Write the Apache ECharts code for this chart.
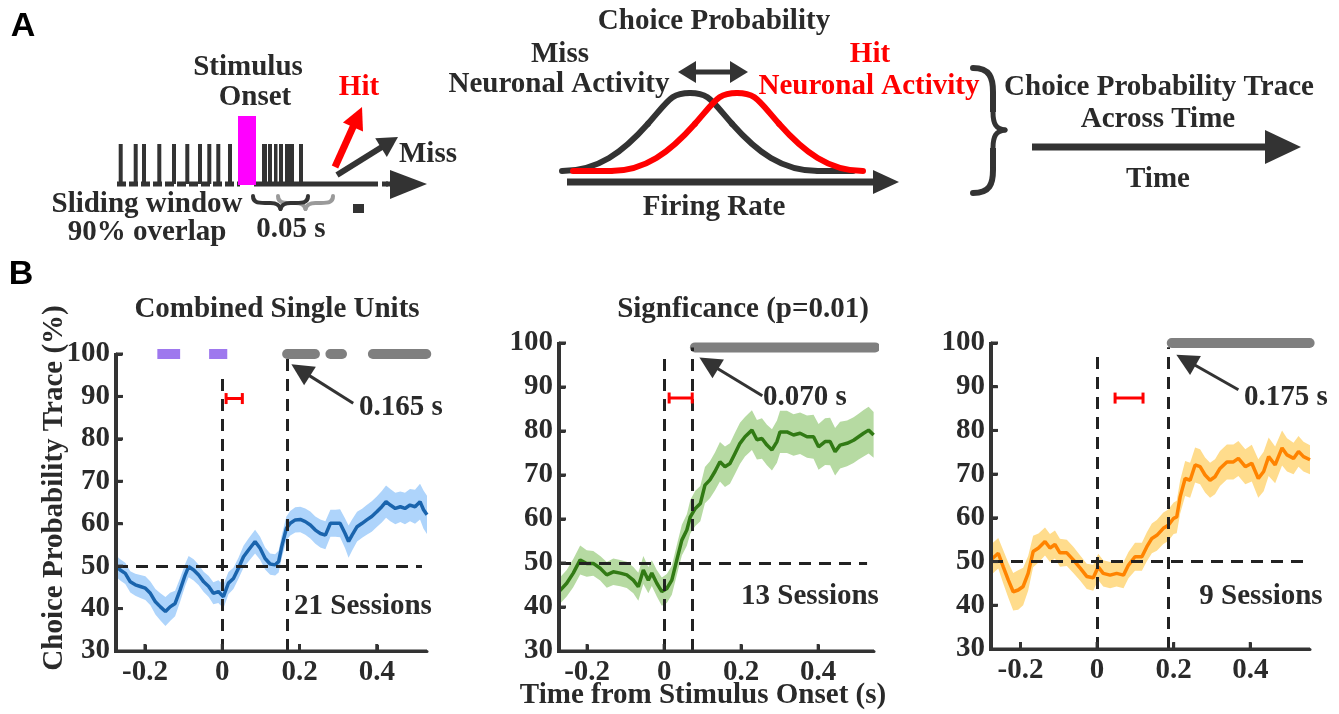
<!DOCTYPE html>
<html><head><meta charset="utf-8">
<script src="https://cdn.jsdelivr.net/npm/echarts@6/dist/echarts.min.js"></script>
<style>html,body{margin:0;padding:0;background:#fff}#c{width:1339px;height:714px}</style>
</head><body><div id="c"></div>
<script>
// ---------------- DATA ----------------
const xTickValues = [-0.2, 0, 0.2, 0.4];
const xTickLabels = ['-0.2', '0', '0.2', '0.4'];
const yTickValues = [30, 40, 50, 60, 70, 80, 90, 100];

// Panel 1: Combined Single Units (21 sessions)
const p1Time = [-0.275,-0.264,-0.251,-0.238,-0.225,-0.212,-0.199,-0.186,-0.173,-0.160,-0.147,-0.135,-0.122,-0.109,-0.096,-0.087,-0.074,-0.061,-0.048,-0.035,-0.023,-0.010,0.003,0.016,0.029,0.042,0.055,0.068,0.085,0.098,0.111,0.124,0.137,0.146,0.154,0.166,0.176,0.189,0.202,0.215,0.228,0.241,0.254,0.267,0.280,0.293,0.305,0.318,0.327,0.336,0.349,0.362,0.374,0.387,0.400,0.413,0.424,0.435,0.448,0.461,0.473,0.486,0.499,0.512,0.521,0.530];
const p1Mean = [50.0,49.1,48.3,46.3,45.6,45.2,44.8,43.6,41.6,40.4,39.3,40.4,41.2,44.4,47.9,49.9,49.1,47.9,46.3,45.2,43.6,44.0,42.8,46.0,47.1,49.5,52.2,53.8,55.8,54.2,51.8,50.5,50.3,51.1,54.6,58.9,60.1,60.9,61.0,60.5,59.7,58.5,57.7,57.3,60.1,60.1,60.1,57.7,55.8,57.3,59.3,60.1,60.9,61.7,62.8,64.0,65.2,64.4,63.6,64.0,63.6,64.4,64.0,65.2,63.3,62.1];
const p1Err = [2.5,2.5,2.5,2.5,2.6,2.7,2.8,2.8,3.0,3.2,3.4,3.3,3.0,2.8,2.6,2.5,2.5,2.4,2.4,2.5,2.6,2.7,2.8,2.6,2.5,2.5,2.6,2.7,2.8,2.7,2.6,2.5,2.5,2.6,2.7,2.8,2.9,3.0,3.0,3.1,3.2,3.2,3.3,3.3,3.2,3.2,3.3,3.5,3.8,3.7,3.5,3.4,3.5,3.6,3.6,3.7,3.8,3.8,3.7,3.6,3.7,3.8,4.0,4.2,4.5,4.5];

// Panel 2 (13 sessions)
const p2Time = [-0.273,-0.253,-0.236,-0.218,-0.201,-0.184,-0.166,-0.149,-0.132,-0.114,-0.097,-0.080,-0.067,-0.054,-0.041,-0.032,-0.019,-0.006,0.007,0.020,0.033,0.046,0.059,0.068,0.081,0.094,0.106,0.119,0.132,0.145,0.158,0.171,0.184,0.197,0.210,0.228,0.241,0.254,0.267,0.280,0.293,0.301,0.319,0.336,0.353,0.371,0.388,0.401,0.418,0.431,0.444,0.457,0.475,0.492,0.505,0.518,0.531,0.544];
const p2Mean = [43.5,45.4,47.7,50.7,49.9,49.9,48.8,47.3,48.0,47.7,47.3,46.1,44.6,48.4,46.1,47.7,45.4,43.5,44.2,46.1,50.7,55.2,57.5,60.5,62.4,63.5,67.7,68.9,70.8,73.0,71.9,72.6,74.9,77.2,78.7,80.2,78.0,78.3,76.8,75.7,77.6,79.8,79.8,79.1,79.5,78.7,78.7,76.4,77.6,77.6,75.3,76.8,77.2,77.9,78.7,79.5,80.2,79.1];
const p2Err = [3.0,3.0,3.2,3.3,3.0,2.8,2.8,2.9,3.0,3.0,3.0,3.0,3.2,3.2,3.0,2.9,3.0,3.2,3.3,3.3,3.4,3.5,3.6,3.8,4.0,4.0,4.1,4.2,4.3,4.5,4.6,4.6,4.7,4.7,4.5,4.5,4.5,4.6,4.6,4.7,4.8,4.8,4.8,4.7,4.7,4.8,5.0,5.2,5.3,5.4,5.4,5.3,5.2,5.2,5.2,5.3,5.3,5.2];

// Panel 3 (9 sessions)
const p3Time = [-0.277,-0.258,-0.245,-0.232,-0.219,-0.206,-0.193,-0.180,-0.167,-0.153,-0.136,-0.123,-0.110,-0.097,-0.079,-0.062,-0.044,-0.027,-0.010,0.003,0.016,0.034,0.051,0.069,0.082,0.099,0.117,0.130,0.143,0.156,0.173,0.186,0.200,0.208,0.217,0.230,0.243,0.256,0.269,0.282,0.295,0.308,0.321,0.339,0.356,0.369,0.387,0.404,0.421,0.435,0.448,0.465,0.483,0.496,0.513,0.526,0.539,0.556];
const p3Mean = [50.4,51.9,48.8,45.8,43.1,43.5,44.3,47.3,52.3,53.1,54.6,53.1,53.9,52.0,52.0,50.4,48.5,46.6,46.3,48.8,47.3,46.9,47.3,46.9,49.2,51.1,51.1,53.4,55.3,56.0,57.6,58.3,59.9,60.2,64.8,69.0,68.6,72.1,71.7,69.8,68.6,69.4,71.3,72.8,72.8,73.6,71.7,72.5,69.0,70.6,74.0,72.1,76.0,74.4,73.6,75.2,74.0,73.3];
const p3Err = [3.5,3.5,3.8,4.0,4.3,4.5,4.3,4.0,3.6,3.3,3.2,3.2,3.2,3.2,3.0,3.0,2.9,2.9,3.0,3.0,3.0,3.0,3.0,3.0,3.0,3.2,3.2,3.3,3.4,3.5,3.6,3.6,3.6,3.7,3.8,4.0,4.0,4.0,4.0,4.0,4.0,4.0,4.0,4.0,4.0,4.0,4.0,4.2,4.4,4.5,4.4,4.2,4.0,3.8,3.6,3.5,3.4,3.3];

// significance segments [start, end]
const p1Purple = [[-0.168,-0.109],[-0.034,0.013]];
const p1Gray = [[0.168,0.24],[0.28,0.31],[0.39,0.528]];
const p2Gray = [[0.08,0.548]];
const p3Gray = [[0.195,0.555]];
const sigLevel = [100, 99, 100];
const onsetLatency = [0.168, 0.073, 0.187];
const latencyLabels = ['0.165 s', '0.070 s', '0.175 s'];
const sessionLabels = ['21 Sessions', '13 Sessions', '9 Sessions'];
// red error bar: [start, end, level]
const errBars = [[0.01,0.052,89.5],[0.013,0.073,87.5],[0.047,0.12,87.4]];
// arrow [tail, head]
const arrows = [[[0.339,88.4],[0.203,96.2]],[[0.255,88.0],[0.116,95.4]],[[0.369,89.3],[0.232,96.1]]];

// ---------------- STYLE / LAYOUT ----------------
const TXT = '#2a2a2a';
const SERIF = '"Liberation Serif","Times New Roman",serif';
const FS = 29;
const panels = [
  {t:p1Time,m:p1Mean,e:p1Err,line:'#1a64ad',band:'#aed4fb',grid:{left:116,top:354,width:311,height:297},xmin:-0.275,xmax:0.53,h50End:0.517,onsetTop:96,latTop:100,gray:p1Gray,purple:p1Purple},
  {t:p2Time,m:p2Mean,e:p2Err,line:'#317a14',band:'#b6daa2',grid:{left:559,top:343,width:315,height:308},xmin:-0.273,xmax:0.545,h50End:0.527,onsetTop:98,latTop:99,gray:p2Gray,purple:[]},
  {t:p3Time,m:p3Mean,e:p3Err,line:'#ff8300',band:'#ffdc8c',grid:{left:991,top:343,width:319,height:306},xmin:-0.277,xmax:0.556,h50End:0.544,onsetTop:98,latTop:99,gray:p3Gray,purple:[]}
];

const grids = [], xAxes = [], yAxes = [], series = [];
panels.forEach((p, i) => {
  grids.push(Object.assign({containLabel:false}, p.grid));
  xAxes.push({
    type:'value', gridIndex:i, min:p.xmin, max:p.xmax, position:'bottom',
    axisLine:{show:true,onZero:false,lineStyle:{color:'#333',width:3}},
    axisTick:{show:true,inside:true,length:6,lineStyle:{color:'#333',width:3},customValues:xTickValues},
    axisLabel:{customValues:xTickValues,margin:7,color:TXT,fontFamily:SERIF,fontWeight:'bold',fontSize:FS,
      formatter:v=>{const k=xTickValues.findIndex(t=>Math.abs(t-v)<1e-9);return k>=0?xTickLabels[k]:'';}},
    splitLine:{show:false}
  });
  yAxes.push({
    type:'value', gridIndex:i, min:30, max:100, interval:10, position:'left',
    axisLine:{show:true,onZero:false,lineStyle:{color:'#333',width:3}},
    axisTick:{show:true,inside:true,length:6,lineStyle:{color:'#333',width:3}},
    axisLabel:{margin:6,color:TXT,fontFamily:SERIF,fontWeight:'bold',fontSize:FS},
    splitLine:{show:false}
  });
  const common = {xAxisIndex:i,yAxisIndex:i,symbol:'none',silent:true,animation:false,emphasis:{disabled:true}};
  // confidence band as polygon through the axes' scales
  series.push({type:'custom',xAxisIndex:i,yAxisIndex:i,silent:true,animation:false,z:1,data:[[p.t[0],p.m[0]]],
    renderItem:(params, api)=>{
      const up = p.t.map((x,k)=>api.coord([x,p.m[k]+p.e[k]]));
      const lo = p.t.map((x,k)=>api.coord([x,p.m[k]-p.e[k]])).reverse();
      return {type:'polygon',shape:{points:up.concat(lo)},style:{fill:p.band}};
    }});
  // mean trace + reference lines
  series.push(Object.assign({}, common, {type:'line',data:p.t.map((x,k)=>[x,p.m[k]]),lineStyle:{color:p.line,width:3.5},z:3,
    markLine:{silent:true,symbol:'none',animation:false,label:{show:false},emphasis:{disabled:true},
      lineStyle:{color:'#222',width:3,type:[12,8]},
      data:[
        [{coord:[p.xmin,50]},{coord:[p.h50End,50]}],
        [{coord:[0,30]},{coord:[0,p.onsetTop]}],
        [{coord:[onsetLatency[i],30]},{coord:[onsetLatency[i],p.latTop]}]
      ]}}));
  // significance bars
  p.gray.forEach(s => series.push(Object.assign({}, common, {type:'line',clip:false,data:[[s[0],sigLevel[i]],[s[1],sigLevel[i]]],lineStyle:{color:'#7f7f7f',width:10,cap:'round'},z:4})));
  p.purple.forEach(s => series.push(Object.assign({}, common, {type:'line',clip:false,data:[[s[0],sigLevel[i]],[s[1],sigLevel[i]]],lineStyle:{color:'#9e78ee',width:10,cap:'butt'},z:4})));
  // red error bar
  const eb = errBars[i];
  series.push(Object.assign({}, common, {type:'line',clip:false,data:[[eb[0],eb[2]],[eb[1],eb[2]]],symbol:'rect',symbolSize:[3,11],showSymbol:true,itemStyle:{color:'#ff0000'},lineStyle:{color:'#ff0000',width:3},z:5}));
  // arrow
  series.push(Object.assign({}, common, {type:'line',data:[],
    markLine:{silent:true,animation:false,label:{show:false},emphasis:{disabled:true},symbol:['none','triangle'],symbolSize:22,
      lineStyle:{color:'#333',width:3,type:'solid'},itemStyle:{color:'#333'},
      data:[[{coord:arrows[i][0]},{coord:arrows[i][1]}]]}}));
});

// ---------------- GRAPHIC (texts + panel A schematic) ----------------
const G = [];
function txt(s, x, y, o) {
  o = o || {};
  G.push({type:'text', x:x, y:y, rotation:o.rot||0, z:100,
    style:{text:s, font:o.font||('bold '+FS+'px '+SERIF), fill:o.fill||TXT,
      align:'center', verticalAlign:'middle', textAlign:'center', textVerticalAlign:'middle'}});
}
function rect(x,y,w,h,fill,z){G.push({type:'rect',z:z||50,shape:{x:x,y:y,width:w,height:h},style:{fill:fill}});}
function line(x1,y1,x2,y2,c,w,dash){G.push({type:'line',z:50,shape:{x1:x1,y1:y1,x2:x2,y2:y2},style:{stroke:c,lineWidth:w,lineDash:dash||null,lineCap:'butt'}});}
function poly(pts,fill){G.push({type:'polygon',z:51,shape:{points:pts},style:{fill:fill}});}
function bez(a,c1,c2,b,col,w,z){G.push({type:'bezierCurve',z:z||50,shape:{x1:a[0],y1:a[1],cpx1:c1[0],cpy1:c1[1],cpx2:c2[0],cpy2:c2[1],x2:b[0],y2:b[1]},style:{stroke:col,lineWidth:w,fill:null,lineCap:'round'}});}
function arrowTo(x0,y0,x1,y1,col,w,hl,hw){
  const dx=x1-x0, dy=y1-y0, L=Math.hypot(dx,dy), ux=dx/L, uy=dy/L, px=-uy, py=ux;
  const bx=x1-hl*ux, by=y1-hl*uy;
  line(x0,y0,bx+2*ux,by+2*uy,col,w);
  poly([[x1,y1],[bx+hw*px,by+hw*py],[bx-hw*px,by-hw*py]],col);
}

// panel labels
txt('A', 23, 27, {font:'bold 34px "Liberation Sans",Arial,sans-serif', fill:'#000'});
txt('B', 21, 275, {font:'bold 34px "Liberation Sans",Arial,sans-serif', fill:'#000'});

// spike train
[120.7,135.7,144,159.3,174,187.3,200,209.3,218.3,230].forEach(x=>rect(x-2,144,4,40,'#333'));
[[262,5],[268,4],[274,3.5],[279,4],[285,9],[299,4]].forEach(s=>rect(s[0],144,s[1],40,'#333'));
line(117,184,240,184,'#333',5,[9,3]);
line(254,184,378,184,'#333',5);
line(382,184,388,184,'#333',5);
line(386,184,394,184,'#333',5);
poly([[390,170],[427,184],[390,199]],'#333');
rect(238,116,18,69,'#ff00ff');
rect(353,204,11,9,'#333');
// braces under window
function hbrace(x0,x1,y0,col){
  const m=(x0+x1)/2;
  bez([x0,y0],[x0,y0+6],[x0+4,y0+7],[x0+12,y0+7],col,4);
  line(x0+12,y0+7,m-10,y0+7,col,4);
  bez([m-10,y0+7],[m-4,y0+7],[m-1,y0+9],[m,y0+13],col,4);
  bez([m,y0+13],[m+1,y0+9],[m+4,y0+7],[m+10,y0+7],col,4);
  line(m+10,y0+7,x1-12,y0+7,col,4);
  bez([x1-12,y0+7],[x1-4,y0+7],[x1,y0+6],[x1,y0],col,4);
}
hbrace(278,333,196,'#9a9a9a');
hbrace(253,308,196,'#333');
// hit / miss arrows
arrowTo(337,175,398,137,'#333',6,20,11);
arrowTo(335,167,362,107,'#ff0000',7,22,11);
txt('Stimulus', 248, 68);
txt('Onset', 255, 98);
txt('Hit', 359, 88, {fill:'#ff0000'});
txt('Miss', 428, 155);
txt('Sliding window', 147, 205);
txt('90% overlap', 147, 233);
txt('0.05 s', 291, 230);

// middle schematic
txt('Choice Probability', 714, 22);
txt('Miss', 560, 55);
txt('Neuronal Activity', 559, 85);
txt('Hit', 870, 55, {fill:'#ff0000'});
txt('Neuronal Activity', 869, 87, {fill:'#ff0000'});
txt('Firing Rate', 714, 208);
line(692,72,734,72,'#333',5);
poly([[678,72],[696,61],[696,83]],'#333');
poly([[748,72],[730,61],[730,83]],'#333');
// bell curves
const K='#333', R='#ff0000';
bez([562,171],[598,171],[623,152],[648,123.7],K,6,52);
bez([648,123.7],[669,100],[671,93],[690,93],K,6,52);
bez([690,93],[709,93],[711,100],[732,123.7],K,6,52);
bez([732,123.7],[757,152],[782,171],[818,171],K,6,52);
G.push({type:'line',z:52,shape:{x1:818,y1:171,x2:853,y2:171},style:{stroke:K,lineWidth:6,lineCap:'round'}});
G.push({type:'line',z:53,shape:{x1:573,y1:171,x2:611,y2:171},style:{stroke:R,lineWidth:6,lineCap:'round'}});
bez([611,171],[645,171],[670,152],[695,123.7],R,6,53);
bez([695,123.7],[716,100],[718,93],[737,93],R,6,53);
bez([737,93],[756,93],[758,100],[779,123.7],R,6,53);
bez([779,123.7],[804,152],[829,171],[863,171],R,6,53);
line(567,182,876,182,'#333',7);
poly([[873,170],[899,182],[873,194]],'#333');

// right schematic
bez([973,68],[990,68],[993,78],[993,92],'#333',6);
rect(990,92,6,20,'#333');
bez([993,112],[993,124],[996,129],[1005,130],'#333',5);
bez([1005,130],[996,131],[993,136],[993,148],'#333',5);
rect(990,148,6,22,'#333');
bez([993,170],[993,184],[990,193],[973,193],'#333',6);
txt('Choice Probability Trace', 1159, 88);
txt('Across Time', 1158, 120);
txt('Time', 1158, 180);
line(1032,147,1268,147,'#333',7);
poly([[1265,130],[1301,147],[1265,164]],'#333');

// panel B texts
txt('Combined Single Units', 277, 310);
txt('Signficance (p=0.01)', 743, 310);
txt('Choice Probability Trace (%)', 55, 488, {rot:Math.PI/2});
txt('Time from Stimulus Onset (s)', 703, 696);
txt(latencyLabels[0], 401, 408); txt(sessionLabels[0], 363, 607);
txt(latencyLabels[1], 805, 398); txt(sessionLabels[1], 810, 597);
txt(latencyLabels[2], 1286, 398); txt(sessionLabels[2], 1261, 597);

const chart = echarts.init(document.getElementById('c'), null, {renderer:'canvas'});
chart.setOption({
  backgroundColor:'#ffffff', animation:false,
  grid:grids, xAxis:xAxes, yAxis:yAxes, series:series, graphic:{elements:G}
});

// axis spines + inward ticks as filled bars, positioned by converting axis values through each grid
const S = [];
panels.forEach((p, i) => {
  const g = p.grid;
  const cv = v => {
    let r = null;
    try { r = chart.convertToPixel({xAxisIndex:i, yAxisIndex:i}, v); } catch (e) { r = null; }
    if (!r || !isFinite(r[0]) || !isFinite(r[1])) {
      r = [g.left + (v[0]-p.xmin)/(p.xmax-p.xmin)*g.width, g.top + (100-v[1])/70*g.height];
    }
    return r;
  };
  const o = cv([p.xmin,30]), top = cv([p.xmin,100]), r = cv([p.xmax,30]);
  S.push({type:'rect',z:300,shape:{x:o[0]-2,y:top[1]-1,width:4,height:o[1]-top[1]+3},style:{fill:'#333'}});
  S.push({type:'rect',z:300,shape:{x:o[0]-2,y:o[1]-1.5,width:r[0]-o[0]+2,height:3.5},style:{fill:'#333'}});
  yTickValues.slice(1).forEach(v=>{const a=cv([p.xmin,v]);S.push({type:'rect',z:300,shape:{x:a[0],y:a[1]-1.5,width:7,height:3},style:{fill:'#333'}});});
  xTickValues.forEach(v=>{const a=cv([v,30]);S.push({type:'rect',z:300,shape:{x:a[0]-1.5,y:a[1]-7,width:3,height:7},style:{fill:'#333'}});});
});
chart.setOption({graphic:{elements:G.concat(S)}}, {replaceMerge:['graphic']});
</script></body></html>
